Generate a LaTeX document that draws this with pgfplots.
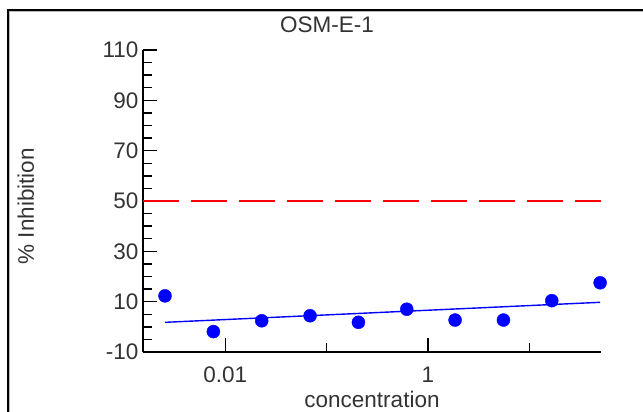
\documentclass[border=0pt]{standalone}
\usepackage{fontspec}
\setmainfont{Liberation Sans}
\usepackage{pgfplots}
\pgfplotsset{compat=1.18}
\definecolor{ptblue}{RGB}{0,0,255}
\definecolor{ptred}{RGB}{255,0,0}
\newcommand{\lbl}{\fontsize{22.5bp}{25bp}\selectfont}
\begin{document}
\begin{tikzpicture}
\useasboundingbox (0,0) rectangle (643bp,412bp);
% window frame
\draw[black, line width=1.8bp] (7.7bp,0) -- (7.7bp,401.8bp) -- (643bp,401.8bp);
\draw[gray!55, line width=1.2bp] (9.4bp,0) -- (9.4bp,400.2bp) -- (643bp,400.2bp);
\node[anchor=base, font=\lbl, text=black!80] at (327bp,379bp) {OSM-E-1};
\begin{axis}[
  at={(143bp,60bp)}, anchor=south west,
  scale only axis, width=458bp, height=302bp,
  xmode=log, xmin=0.00154, xmax=51,
  ymin=-10, ymax=110,
  axis x line=bottom, axis y line=left,
  axis line style={-, line width=1.6bp, black},
  tick align=inside,
  xtick={0.01,1}, xticklabels={0.01,1},
  minor xtick={0.1,10},
  ytick={-10,10,30,50,70,90,110},
  minor ytick={-5,0,5,15,20,25,35,40,45,55,60,65,75,80,85,95,100,105},
  major tick length=14bp, minor tick length=9bp,
  every tick/.style={black, line width=1.4bp},
  /pgf/number format/assume math mode=true,
  tick label style={font=\lbl, text=black!80},
  xticklabel style={anchor=base, yshift=-30bp},
  yticklabel style={anchor=east, xshift=-1bp},
  log ticks with fixed point,
  xlabel={concentration},
  ylabel={\% Inhibition},
  label style={font=\lbl, text=black!80},
  xlabel style={at={(axis description cs:0.5,-0.184)}, anchor=base},
  ylabel style={at={(axis description cs:-0.238,0.483)}, anchor=base},
  clip=false,
]
% 50% reference line
\addplot[ptred, line width=1.5bp, dash pattern=on 36bp off 12bp] coordinates {(0.00154,50) (51,50)};
% fitted curve
\addplot[ptblue, line width=1.4bp] coordinates {
(0.00254,1.79) (0.00762,2.67) (0.02286,3.56) (0.0686,4.44) (0.2058,5.32)
(0.6173,6.21) (1.852,7.09) (5.556,7.97) (16.67,8.86) (50,9.74)};
% data points
\addplot[only marks, mark=*, mark size=6.5bp, ptblue, mark options={fill=ptblue, draw=ptblue}] coordinates {
(0.00254,12.3) (0.00762,-1.9) (0.02286,2.4) (0.0686,4.4) (0.2058,1.8)
(0.6173,7.0) (1.852,2.7) (5.556,2.7) (16.67,10.4) (50,17.5)};
\end{axis}
\end{tikzpicture}
\end{document}
